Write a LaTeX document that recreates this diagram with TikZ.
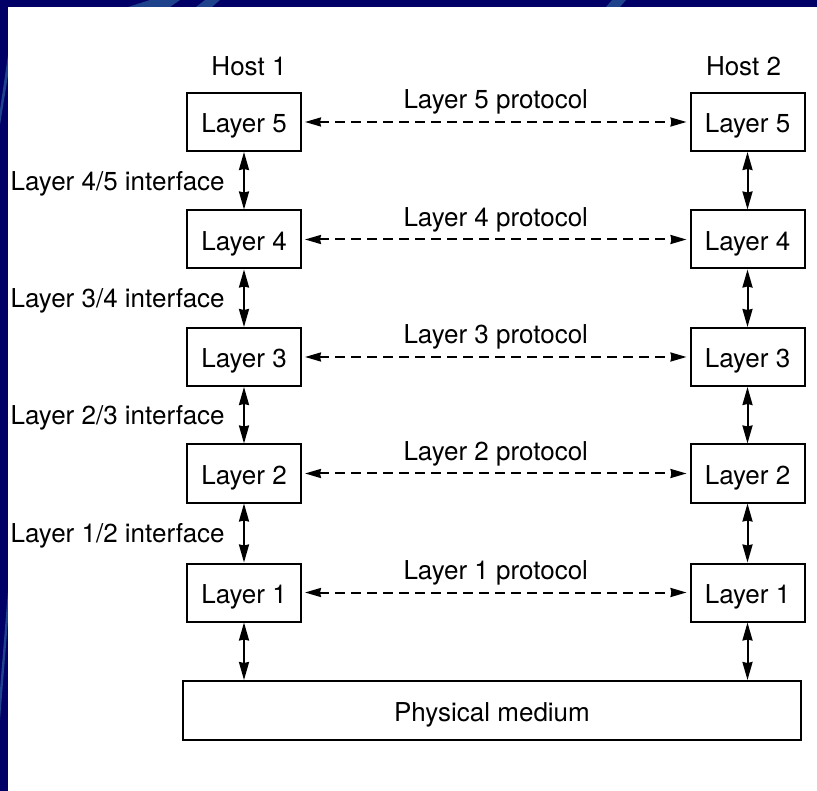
\documentclass[tikz,border=0pt]{standalone}
\usepackage{fontspec}
\setmainfont{TeX Gyre Heros}
\usetikzlibrary{arrows.meta,positioning}
\definecolor{navyback}{RGB}{0,0,102}
\definecolor{streak}{RGB}{30,66,140}
\tikzset{
  layerbox/.style={draw, line width=2pt, minimum width=114pt, minimum height=58pt, inner sep=0pt,
    text height=22pt, text depth=0pt},
  mediumbox/.style={draw, line width=2pt, minimum width=618pt, minimum height=59pt, inner sep=0pt,
    text height=21pt, text depth=0pt},
  iface/.style={{Stealth[length=18pt, width=10pt, inset=1pt]}-{Stealth[length=18pt, width=10pt, inset=1pt]}, line width=2pt},
  proto/.style={{Stealth[length=16pt, width=9pt, inset=1pt]}-{Stealth[length=16pt, width=9pt, inset=1pt]}, line width=2pt,
    dash pattern=on 10pt off 6pt, shorten <=3pt, shorten >=3pt}
}
\begin{document}
\begin{tikzpicture}[x=1pt, y=-1pt, font=\fontsize{26}{31}\selectfont]
% fond et bordure
\useasboundingbox (0,0) rectangle (817,791);
\fill[navyback] (0,0) rectangle (817,791);
\begin{scope}
\clip (0,0) rectangle (817,7) (0,0) rectangle (8,791);
\fill[streak] (128,7) -- (150,0) -- (180,0) -- (170,7) -- cycle;
\fill[streak] (196,7) -- (205,0) -- (220,0) -- (212,7) -- cycle;
\fill[streak] (606,7) -- (612,0) -- (626,0) -- (620,7) -- cycle;
\fill[streak] (0,110) -- (8,55) -- (8,75) -- (0,125) -- cycle;
\fill[streak] (0,690) -- (8,590) -- (8,620) -- (0,720) -- cycle;
\end{scope}
\fill[white] (8,7) rectangle (817,791);

% Host 1
\node[layerbox] (a5) at (244,122) {Layer 5};
\node[layerbox] (a4) at (244,239.5) {Layer 4};
\node[layerbox] (a3) at (244,357) {Layer 3};
\node[layerbox] (a2) at (244,473.5) {Layer 2};
\node[layerbox] (a1) at (244,592.5) {Layer 1};
% Host 2
\node[layerbox] (b5) at (747.5,122) {Layer 5};
\node[layerbox] (b4) at (747.5,239.5) {Layer 4};
\node[layerbox] (b3) at (747.5,357) {Layer 3};
\node[layerbox] (b2) at (747.5,473.5) {Layer 2};
\node[layerbox] (b1) at (747.5,592.5) {Layer 1};

\node[mediumbox] (phys) at (492,710.5) {Physical medium};

\node[above=13pt of a5, xshift=5pt] (host1) {Host 1};
\node[above=13pt of b5, xshift=-4pt] (host2) {Host 2};

% interfaces
\draw[iface] (a5) -- node[left=15pt, yshift=-3pt] (if45) {Layer 4/5 interface} (a4);
\draw[iface] (a4) -- node[left=15pt, yshift=-3pt] (if34) {Layer 3/4 interface} (a3);
\draw[iface] (a3) -- node[left=15pt, yshift=-3pt] (if23) {Layer 2/3 interface} (a2);
\draw[iface] (a2) -- node[left=15pt, yshift=-3pt] (if12) {Layer 1/2 interface} (a1);
\draw[iface] (b5) -- (b4);
\draw[iface] (b4) -- (b3);
\draw[iface] (b3) -- (b2);
\draw[iface] (b2) -- (b1);
\draw[iface] (a1) -- (a1 |- phys.north);
\draw[iface] (b1) -- (b1 |- phys.north);

% protocoles
\draw[proto] (a5) -- node[above=3pt] (p5) {Layer 5 protocol} (b5);
\draw[proto] (a4) -- node[above=3pt] (p4) {Layer 4 protocol} (b4);
\draw[proto] (a3) -- node[above=3pt] (p3) {Layer 3 protocol} (b3);
\draw[proto] (a2) -- node[above=3pt] (p2) {Layer 2 protocol} (b2);
\draw[proto] (a1) -- node[above=3pt] (p1) {Layer 1 protocol} (b1);
\end{tikzpicture}
\end{document}
